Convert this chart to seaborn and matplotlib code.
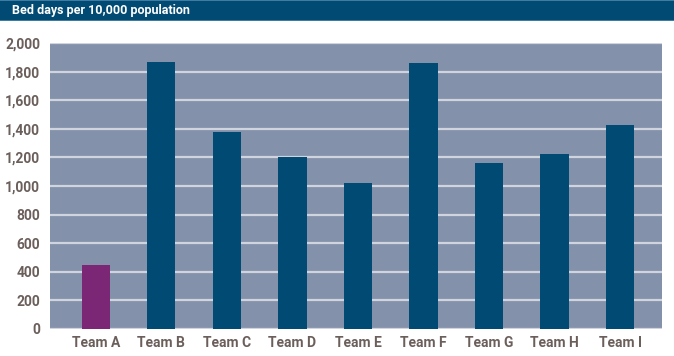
import matplotlib
matplotlib.use("Agg")
import matplotlib.pyplot as plt
import seaborn as sns
import pandas as pd
from matplotlib.patches import Rectangle

teams = ["Team A", "Team B", "Team C", "Team D", "Team E", "Team F", "Team G", "Team H", "Team I"]
bed_days = [450, 1870, 1380, 1200, 1020, 1860, 1160, 1225, 1430]
bar_colors = ["#7B2775"] + ["#004A73"] * 8
title = "Bed days per 10,000 population"
yticks = list(range(0, 2001, 200))

df = pd.DataFrame({"team": teams, "value": bed_days})

sns.set_theme(style="white")
plt.rcParams["font.family"] = ["Roboto", "DejaVu Sans"]

fig = plt.figure(figsize=(6.74, 3.56), dpi=100)
fig.patch.set_facecolor("white")

# title bar
fig.patches.append(Rectangle((0, 1 - 20 / 356), 1, 20 / 356, transform=fig.transFigure,
                             facecolor="#004A73", edgecolor="none", zorder=0))
fig.patches.append(Rectangle((0, 1 - 21 / 356), 1, 1.2 / 356, transform=fig.transFigure,
                             facecolor="#3F7CA0", edgecolor="none", zorder=1))
fig.patches.append(Rectangle((0, 1 - 1 / 356), 1, 1 / 356, transform=fig.transFigure,
                             facecolor="#3F7CA0", edgecolor="none", zorder=1))
fig.text(12 / 674, 1 - 10.5 / 356, title, color="white", fontsize=9, fontweight="bold",
         va="center", ha="left")

ax = fig.add_axes([50 / 674, 27 / 356, 612 / 674, 286 / 356])
ax.set_facecolor("#8391AA")
sns.barplot(data=df, x="team", y="value", hue="team", palette=bar_colors, width=0.43,
            legend=False, ax=ax, saturation=1, zorder=3, linewidth=0, edgecolor="none")
ax.set_ylim(0, 2000)
ax.set_yticks(yticks)
ax.set_yticklabels([f"{v:,}" for v in yticks])
ax.grid(axis="y", color="#D0D4DE", linewidth=1.6, zorder=0)
ax.set_axisbelow(True)
for s in ax.spines.values():
    s.set_visible(False)
ax.set_xlabel("")
ax.set_ylabel("")
ax.tick_params(axis="both", length=0, labelsize=10, labelcolor="#6B5F5B")
ax.tick_params(axis="y", pad=7)
ax.tick_params(axis="x", pad=5)
for lab in ax.get_xticklabels() + ax.get_yticklabels():
    lab.set_fontweight("bold")
ax.set_xlim(-0.70, 8.64)

fig.savefig("out.png", dpi=100)
